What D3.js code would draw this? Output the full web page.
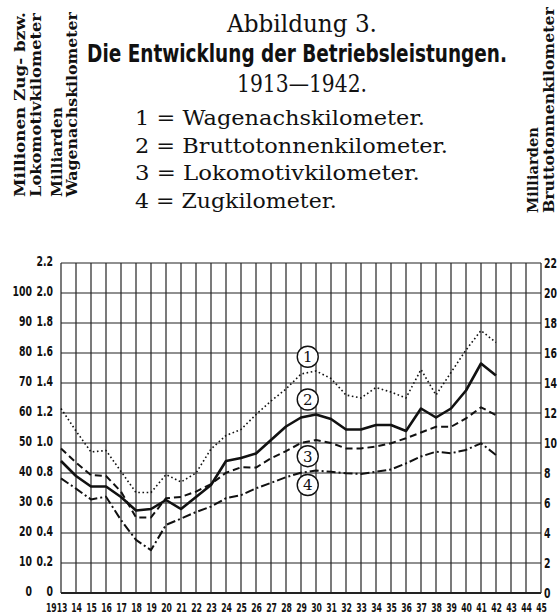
<!DOCTYPE html>
<html>
<head>
<meta charset="utf-8">
<script src="https://cdn.jsdelivr.net/npm/d3@7"></script>
<style>
  body { margin: 0; background: #fff; }
  svg { display: block; }
  .serif { font-family: "DejaVu Serif", "Liberation Serif", serif; fill: #111; }
  .narrow { font-family: "Liberation Sans Narrow", "DejaVu Sans Condensed", sans-serif; font-weight: bold; fill: #111; }
</style>
</head>
<body>
<svg id="chart"></svg>
<script>
// years 1913..1942
const years = d3.range(1913, 1943);
// 1 = Wagenachskilometer (Milliarden)
const wagenachs = [1.23, 1.08, 0.94, 0.95, 0.81, 0.67, 0.67, 0.79, 0.74, 0.80,
  0.96, 1.05, 1.09, 1.19, 1.28, 1.36, 1.46, 1.48, 1.43, 1.32,
  1.30, 1.37, 1.34, 1.30, 1.49, 1.32, 1.47, 1.62, 1.75, 1.67];
// 2 = Bruttotonnenkilometer (Milliarden)
const brutto = [8.8, 7.8, 7.1, 7.1, 6.4, 5.5, 5.6, 6.2, 5.6, 6.4,
  7.2, 8.8, 9.0, 9.3, 10.2, 11.1, 11.7, 11.9, 11.6, 10.9,
  10.9, 11.2, 11.2, 10.8, 12.3, 11.7, 12.3, 13.5, 15.3, 14.5];
// 3 = Lokomotivkilometer (Millionen)
const lokomotiv = [48.2, 43.5, 39.3, 39.0, 33.8, 25.2, 25.2, 31.6, 32.0, 33.8,
  36.3, 40.1, 41.9, 41.8, 44.9, 47.3, 50.0, 51.0, 50.0, 48.2,
  48.2, 48.8, 49.9, 51.6, 53.5, 55.4, 55.4, 58.2, 61.9, 59.3];
// 4 = Zugkilometer (Millionen)
const zug = [38.2, 34.8, 31.2, 32.1, 24.3, 17.7, 14.3, 22.7, 24.8, 27.0,
  28.8, 31.6, 32.6, 34.9, 36.7, 38.6, 40.1, 40.8, 40.4, 39.9,
  39.7, 40.4, 41.2, 43.2, 45.5, 47.1, 46.6, 47.7, 49.9, 46.0];

const millionTicks = [0, 10, 20, 30, 40, 50, 60, 70, 80, 90, 100];
const milliardTicks = [0, 0.2, 0.4, 0.6, 0.8, 1.0, 1.2, 1.4, 1.6, 1.8, 2.0, 2.2];
const bruttoTicks = [0, 2, 4, 6, 8, 10, 12, 14, 16, 18, 20, 22];
const yearTicks = d3.range(1913, 1946);

const legendLines = ["1 = Wagenachskilometer.", "2 = Bruttotonnenkilometer.",
  "3 = Lokomotivkilometer.", "4 = Zugkilometer."];
// circled series numbers: [label, year, value on own scale]
const markers = [["1", 1929.45, 1.575, "inner"], ["2", 1929.45, 12.9, "right"],
  ["3", 1929.45, 45.6, "mio"], ["4", 1929.45, 36.0, "mio"]];

const W = 558, H = 616;
const svg = d3.select("#chart").attr("width", W).attr("height", H);

const x = d3.scaleLinear().domain([1913, 1945]).range([61, 541]);
const yInner = d3.scaleLinear().domain([0, 2.2]).range([593, 263]);
const yRight = d3.scaleLinear().domain([0, 22]).range([593, 263]);
const yMio = d3.scaleLinear().domain([0, 110]).range([593, 263]);
const scales = { inner: yInner, right: yRight, mio: yMio };

// squeeze a text placed at (0,0) to a given width, keeping its position
function fit(sel, pre, width) {
  sel.attr("transform", function (d, i) {
    const w = typeof width === "function" ? width(d, i) : width;
    const k = w / this.getComputedTextLength();
    return `${typeof pre === "function" ? pre(d, i) : pre} scale(${k},1)`;
  });
}

// headings
svg.append("text").attr("class", "serif").attr("text-anchor", "middle")
  .style("font-size", "24px").text("Abbildung 3.")
  .call(fit, "translate(302,32)", 150);
svg.append("text").attr("class", "narrow").attr("text-anchor", "middle")
  .style("font-size", "25px").text("Die Entwicklung der Betriebsleistungen.")
  .call(fit, "translate(297,62)", 420);
svg.append("text").attr("class", "serif").attr("text-anchor", "middle")
  .style("font-size", "24px").text("1913\u20141942.")
  .call(fit, "translate(302,92)", 130);

const legendEnds = [425, 448, 420, 337];
svg.selectAll(".legend").data(legendLines).join("text")
  .attr("class", "serif legend")
  .style("font-size", "21px")
  .text(d => d)
  .call(fit, (d, i) => `translate(135,${125 + i * 27.7})`, (d, i) => legendEnds[i] - 135);

// rotated unit labels
const unitLabels = [
  { t: "Millionen  Zug- bzw.", x: 25, y: 197, len: 185 },
  { t: "Lokomotivkilometer", x: 41, y: 197, len: 184 },
  { t: "Milliarden", x: 62, y: 197, len: 90 },
  { t: "Wagenachskilometer", x: 77, y: 197, len: 185 },
  { t: "Milliarden", x: 538, y: 213, len: 86 },
  { t: "Bruttotonnenkilometer", x: 554, y: 213, len: 206 }
];
svg.selectAll(".unit").data(unitLabels).join("text")
  .attr("class", "serif unit")
  .style("font-size", "15.5px").style("font-weight", "bold")
  .text(d => d.t)
  .call(fit, d => `translate(${d.x},${d.y}) rotate(-90)`, d => d.len);

// grid
const grid = svg.append("g").attr("stroke", "#222").attr("stroke-width", 1.2);
grid.selectAll("line.v").data(yearTicks).join("line").attr("class", "v")
  .attr("x1", d => x(d)).attr("x2", d => x(d))
  .attr("y1", yInner(2.2)).attr("y2", yInner(0));
grid.selectAll("line.h").data(milliardTicks).join("line").attr("class", "h")
  .attr("x1", x(1913)).attr("x2", x(1945))
  .attr("y1", d => yInner(d)).attr("y2", d => yInner(d));
grid.append("line").attr("x1", x(1913)).attr("x2", x(1945))
  .attr("y1", yInner(0)).attr("y2", yInner(0)).attr("stroke-width", 1.8);

// axes; the printed labels are very condensed, so they are squeezed sideways
const fmtM = d => d === 0 ? "0" : d3.format(".1f")(d);
const axisMio = d3.axisLeft(yMio).tickValues(millionTicks).tickSize(0).tickPadding(0);
const axisInner = d3.axisLeft(yInner).tickValues(milliardTicks).tickSize(0).tickPadding(0).tickFormat(fmtM);
const axisRight = d3.axisRight(yRight).tickValues(bruttoTicks).tickSize(0).tickPadding(0);
const axisX = d3.axisBottom(x).tickValues(yearTicks).tickSize(0).tickPadding(0)
  .tickFormat(d => d === 1913 ? "1913" : String(d % 100));

function styleAxis(g, sx, size) {
  g.select(".domain").remove();
  g.selectAll("text").attr("class", "narrow").style("font-size", size + "px")
    .attr("fill", "#111").attr("transform", `scale(${sx},1)`);
}
svg.append("g").attr("transform", "translate(32,-1.5)").call(axisMio).call(styleAxis, 0.74, 14);
svg.append("g").attr("transform", "translate(53,-1.5)").call(axisInner).call(styleAxis, 0.74, 14);
svg.append("g").attr("transform", "translate(544,0)").call(axisRight).call(styleAxis, 0.74, 14);
svg.append("g").attr("transform", "translate(0,602.5)").call(axisX).call(styleAxis, 0.66, 13)
  .selectAll("text").attr("dy", "0.71em")
  .attr("text-anchor", d => d === 1913 ? "end" : "middle")
  .attr("x", d => d === 1913 ? 9 : 0);

// series
const series = [
  { v: wagenachs, y: yInner, w: 1.6, dash: "1.6,2.6" },
  { v: brutto, y: yRight, w: 2.6, dash: null },
  { v: lokomotiv, y: yMio, w: 2.0, dash: "7,4" },
  { v: zug, y: yMio, w: 2.0, dash: "9,3,2,3" }
];
series.forEach(s => {
  const line = d3.line().x((d, i) => x(years[i])).y(d => s.y(d));
  svg.append("path").datum(s.v).attr("d", line)
    .attr("fill", "none").attr("stroke", "#111")
    .attr("stroke-width", s.w).attr("stroke-linejoin", "round")
    .attr("stroke-dasharray", s.dash);
});

// circled numbers
const mk = svg.selectAll(".mk").data(markers).join("g").attr("class", "mk")
  .attr("transform", d => `translate(${x(d[1])},${scales[d[3]](d[2])})`);
mk.append("circle").attr("r", 10.5).attr("fill", "#fff")
  .attr("stroke", "#111").attr("stroke-width", 1.4);
mk.append("text").attr("class", "serif").attr("text-anchor", "middle")
  .attr("dy", "0.36em").style("font-size", "15px").text(d => d[0]);
</script>
</body>
</html>
